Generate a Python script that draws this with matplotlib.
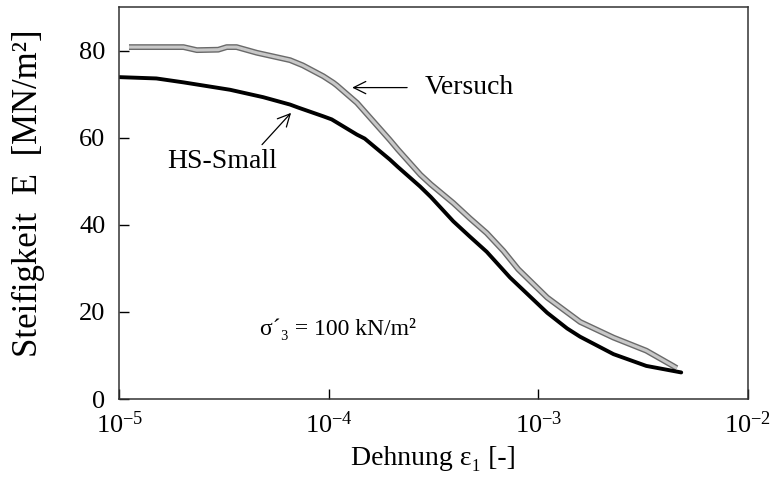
import matplotlib
matplotlib.use("Agg")
import matplotlib.pyplot as plt
import matplotlib.patheffects as pe
from matplotlib.ticker import LogLocator, LogFormatterMathtext, NullLocator

plt.rcParams['font.family'] = ['Liberation Serif', 'DejaVu Serif']
plt.rcParams['mathtext.fontset'] = 'custom'
plt.rcParams['mathtext.rm'] = 'Liberation Serif'
plt.rcParams['mathtext.it'] = 'Liberation Serif:italic'

# triaxial test, sigma'_3 = 100 kN/m2
versuch_eps = [1.11e-5, 1.58e-5, 2.02e-5, 2.34e-5, 2.96e-5, 3.25e-5, 3.62e-5,
               4.52e-5, 6.52e-5, 7.5e-5, 9.4e-5, 1.05e-4, 1.09e-4, 1.36e-4,
               1.48e-4, 1.95e-4, 2.13e-4, 2.73e-4, 3.06e-4, 3.92e-4, 4.7e-4,
               5.66e-4, 6.8e-4, 8.0e-4, 1.10e-3, 1.58e-3, 2.28e-3, 3.27e-3,
               4.39e-3, 4.57e-3]
versuch_E = [80.8, 80.8, 80.8, 80.1, 80.2, 80.8, 80.8,
             79.5, 77.8, 76.6, 74.1, 72.6, 72.0, 68.0,
             66.0, 59.5, 57.3, 51.5, 49.3, 45.0, 41.5,
             38.1, 34.0, 29.8, 23.3, 17.7, 14.1, 11.1,
             7.6, 7.1]

# HS-Small model
hs_eps = [1.0e-5, 1.5e-5, 2.02e-5, 3.37e-5, 4.85e-5, 6.52e-5, 7.14e-5,
          9.4e-5, 1.03e-4, 1.36e-4, 1.48e-4, 1.95e-4, 2.13e-4, 2.72e-4,
          3.06e-4, 3.92e-4, 4.7e-4, 5.66e-4, 7.31e-4, 1.10e-3, 1.37e-3,
          1.58e-3, 2.28e-3, 3.27e-3, 4.8e-3]
hs_E = [73.9, 73.6, 72.7, 71.0, 69.3, 67.6, 66.9,
        64.9, 64.2, 60.7, 59.8, 55.0, 53.3, 48.8,
        46.4, 40.8, 37.3, 33.8, 27.9, 19.8, 16.2,
        14.3, 10.3, 7.6, 6.1]

fig = plt.figure(figsize=(7.79, 4.84), dpi=100)
ax = fig.add_axes([0.1534, 0.1756, 0.8068, 0.8099])

ax.plot(versuch_eps, versuch_E, color='#c8c8c8', lw=2.2, solid_capstyle='butt',
        path_effects=[pe.Stroke(linewidth=4.2, foreground='#6a6a6a'), pe.Normal()])
ax.plot(hs_eps, hs_E, color='black', lw=2.8, solid_capstyle='round')

ax.set_xscale('log')
ax.set_xlim(1e-5, 1e-2)
ax.set_ylim(0, 90)
ax.xaxis.set_major_locator(LogLocator(base=10, numticks=10))
ax.xaxis.set_minor_locator(NullLocator())
ax.xaxis.set_major_formatter(LogFormatterMathtext())
ax.set_yticks([0, 20, 40, 60, 80])

ax.tick_params(direction='in', length=7, width=1, labelsize=19, pad=9)
ax.tick_params(axis='y', pad=10)
for s in ax.spines.values():
    s.set_linewidth(1.1)
    s.set_color('#333333')

ax.set_xlabel('Dehnung ε₁ [-]', fontsize=20, labelpad=6)
ax.set_ylabel('Steifigkeit  E  [MN/m²]', fontsize=25)
ax.yaxis.set_label_coords(-0.118, 0.525)

arrow = dict(arrowstyle='->', lw=0.9, color='black', mutation_scale=22,
             shrinkA=0, shrinkB=0)
ax.annotate('', xy=(1.29e-4, 71.5), xytext=(2.36e-4, 71.5), arrowprops=arrow)
ax.text(2.87e-4, 71.5, 'Versuch', fontsize=20, va='center', ha='left')

ax.annotate('', xy=(6.59e-5, 65.7), xytext=(4.79e-5, 58.4), arrowprops=arrow)
ax.text(3.08e-5, 54.5, 'HS-Small', fontsize=20, va='center', ha='center')

ax.text(4.69e-5, 16.0, 'σ´₃ = 100 kN/m²', fontsize=17, va='center', ha='left')

fig.savefig('out.png', dpi=100)
